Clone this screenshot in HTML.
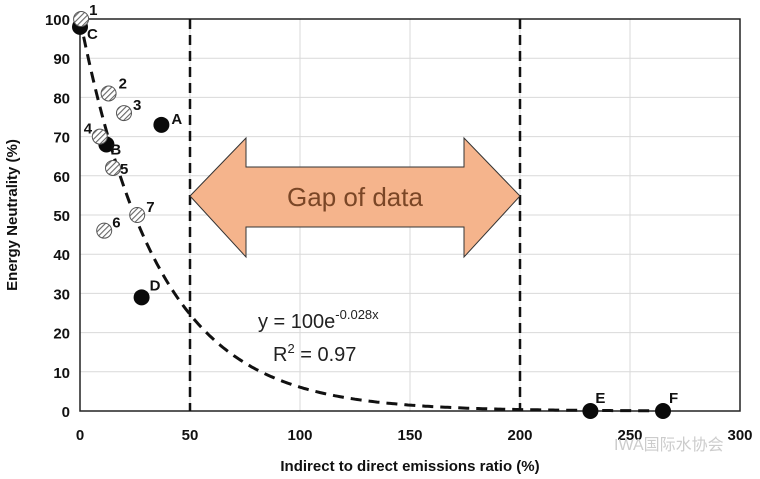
<!DOCTYPE html>
<html><head><meta charset="utf-8"><style>
body{margin:0;background:#fff;}
svg{display:block;font-family:"Liberation Sans",Arial,sans-serif;}
</style></head><body>
<svg id="chart" width="760" height="479"></svg>
<script>
const xTicks=[0,50,100,150,200,250,300];
const yTicks=[0,10,20,30,40,50,60,70,80,90,100];
const hatchLabels=["1","2","3","4","5","6","7"];
const hatchX=[0.5,13,20,9,15,11,26];
const hatchY=[100,81,76,70,62,46,50];
const solidLabels=["C","A","B","D","E","F"];
const solidX=[0,37,12,28,232,265];
const solidY=[98,73,68,29,0,0];
const fitA=100, fitK=0.028;
const gapStart=50, gapEnd=200;

const X0=80,X1=740,Y0=411,Y1=19;
const sx=v=>X0+(X1-X0)*v/300;
const sy=v=>Y0-(Y0-Y1)*v/100;
const svg=document.getElementById('chart');
const NS='http://www.w3.org/2000/svg';
function mk(t,a,p){const e=document.createElementNS(NS,t);for(const k in a)e.setAttribute(k,a[k]);(p||svg).appendChild(e);return e;}

svg.innerHTML='<defs><pattern id="hatch" width="4" height="4" patternUnits="userSpaceOnUse" patternTransform="rotate(45)"><rect width="4" height="4" fill="#fff"/><line x1="0" y1="0" x2="0" y2="4" stroke="#666" stroke-width="2.2"/></pattern></defs>';

yTicks.forEach(v=>{
 const g=mk('line',{x1:X0,x2:X1,y1:sy(v),y2:sy(v),stroke:'#d9d9d9','stroke-width':1});
 
 const t=mk('text',{x:X0-10,y:sy(v)+6,'text-anchor':'end','font-size':15,'font-weight':'bold',fill:'#111'});
 t.textContent=v;
});
xTicks.forEach(v=>{
 if(v>0&&v<300){const g=mk('line',{x1:sx(v),x2:sx(v),y1:Y1,y2:Y0,stroke:'#d9d9d9','stroke-width':1});
 }
 const t=mk('text',{x:sx(v),y:440,'text-anchor':'middle','font-size':15,'font-weight':'bold',fill:'#111'});
 t.textContent=v;
});
const frame=mk('rect',{x:X0,y:Y1,width:X1-X0,height:Y0-Y1,fill:'none',stroke:'#222','stroke-width':1.5});


[gapStart,gapEnd].forEach(v=>{
 const l=mk('line',{x1:sx(v),x2:sx(v),y1:Y1,y2:Y0,stroke:'#111','stroke-width':2.5,'stroke-dasharray':'10,6'});
 
});

const xl=sx(gapStart),xr=sx(gapEnd),cy=196;
const arrow=mk('polygon',{points:[[xl,cy],[xl+56,138],[xl+56,167],[xr-56,167],[xr-56,138],[xr,cy],[xr-56,257],[xr-56,227],[xl+56,227],[xl+56,257]].map(p=>p.join(',')).join(' '),fill:'#f5b48c',stroke:'#333','stroke-width':1});

const gt=mk('text',{x:(xl+xr)/2,y:206,'text-anchor':'middle','font-size':26,fill:'#7a4626'});
gt.textContent='Gap of data';

let d='';for(let x=0;x<=265;x+=1){d+=(x?'L':'M')+sx(x).toFixed(1)+','+sy(fitA*Math.exp(-fitK*x)).toFixed(1);}
const fc=mk('path',{d:d,fill:'none',stroke:'#111','stroke-width':3,'stroke-dasharray':'11,7'});


const eq=mk('text',{x:258,y:328,'font-size':20,fill:'#222'});
eq.innerHTML='y = 100e<tspan dy="-9" font-size="13">-0.028x</tspan>';

const r2=mk('text',{x:273,y:361,'font-size':20,fill:'#222'});
r2.innerHTML='R<tspan dy="-8" font-size="13">2</tspan><tspan dy="8"> = 0.97</tspan>';


const lblOff={"1":[8,-4],"2":[10,-5],"3":[9,-3],"4":[-16,-3],"5":[7,6],"6":[8,-3],"7":[9,-3],"C":[7,12],"A":[10,-1],"B":[4,10],"D":[8,-7],"E":[5,-8],"F":[6,-8]};
solidX.forEach((x,i)=>{
 const c=mk('circle',{cx:sx(x),cy:sy(solidY[i]),r:8,fill:'#0a0a0a'});
 
 const o=lblOff[solidLabels[i]];
 const t=mk('text',{x:sx(x)+o[0],y:sy(solidY[i])+o[1],'font-size':15,'font-weight':'bold',fill:'#111'});
 t.textContent=solidLabels[i];
});
hatchX.forEach((x,i)=>{
 const c=mk('circle',{cx:sx(x),cy:sy(hatchY[i]),r:7.5,fill:'url(#hatch)',stroke:'#555','stroke-width':1});
 
 const o=lblOff[hatchLabels[i]];
 const t=mk('text',{x:sx(x)+o[0],y:sy(hatchY[i])+o[1],'font-size':15,'font-weight':'bold',fill:'#111'});
 t.textContent=hatchLabels[i];
});

const xt=mk('text',{x:410,y:471,'text-anchor':'middle','font-size':15,'font-weight':'bold',fill:'#111'});
xt.textContent='Indirect to direct emissions ratio (%)';
const yt=mk('text',{x:0,y:0,'text-anchor':'middle','font-size':15,'font-weight':'bold',fill:'#111',transform:'translate(17,215) rotate(-90)'});
yt.textContent='Energy Neutrality (%)';
const wm=mk('text',{x:614,y:450,'font-size':16,fill:'#ccc','font-family':'"Liberation Sans","Noto Sans CJK SC",sans-serif'});
wm.textContent='IWA国际水协会';
</script>
</body></html>
